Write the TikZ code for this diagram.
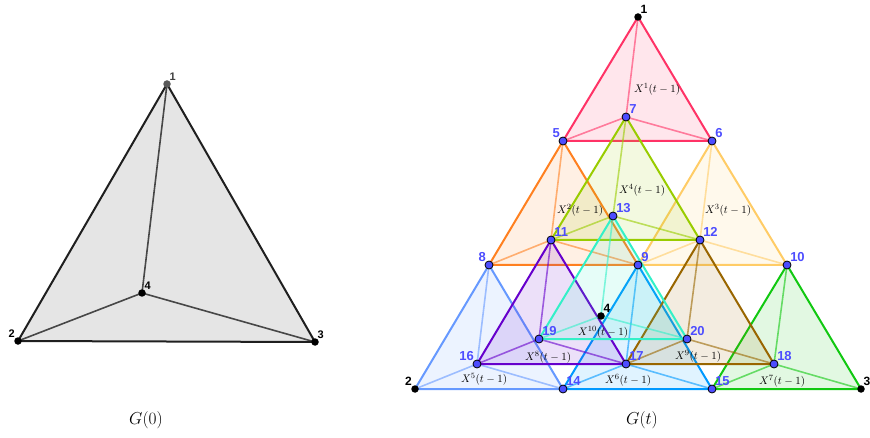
\documentclass[tikz,border=0pt]{standalone}
\usepackage{amsmath}
\usepackage{fontspec}
\usepackage{tikz}
\usetikzlibrary{positioning, calc}
\newfontfamily\lblfont{Liberation Sans}

\definecolor{cPink}{RGB}{255,51,102}
\definecolor{cOrange}{RGB}{255,128,32}
\definecolor{cSand}{RGB}{255,204,102}
\definecolor{cLime}{RGB}{153,204,0}
\definecolor{cSky}{RGB}{102,153,255}
\definecolor{cBlue}{RGB}{0,153,255}
\definecolor{cGreen}{RGB}{17,200,17}
\definecolor{cPurple}{RGB}{102,0,204}
\definecolor{cBrown}{RGB}{153,102,0}
\definecolor{cAqua}{RGB}{51,240,200}
\definecolor{lblblue}{RGB}{77,77,255}

\tikzset{
  tri/.style={draw=#1, fill=#1, fill opacity=0.12, draw opacity=1, line width=2pt, line join=round},
  spk/.style={draw=#1, draw opacity=0.6, line width=1.6pt},
  bluevtx/.style={circle, draw=black, fill=lblblue, line width=0.8pt, inner sep=0pt, minimum size=8pt},
  blackvtx/.style={circle, fill=black, inner sep=0pt, minimum size=7.5pt},
  bluelbl/.style={text=lblblue, font=\fontsize{13}{13}\lblfont\bfseries, inner sep=1pt, label distance=-1.5pt},
  blacklbl/.style={text=black, font=\fontsize{12}{12}\lblfont\bfseries, inner sep=1pt, label distance=-1pt},
  xlbl/.style={font=\fontsize{11}{11}\selectfont, inner sep=0pt},
  caption/.style={font=\fontsize{19}{19}\selectfont, inner sep=0pt}
}

\begin{document}
\begin{tikzpicture}[x=1pt, y=-1pt]
    \useasboundingbox (0,0) rectangle (870,438);

    % --- G(0) ---
    \coordinate (a1) at (167,84);
    \coordinate (a2) at (18,341);
    \coordinate (a3) at (315,342);
    \coordinate (a4) at (142,293);
    \fill[black!10] (a1) -- (a2) -- (a3) -- cycle;
    \draw[black!72, line width=1.6pt] (a4) -- (a1) (a4) -- (a2) (a4) -- (a3);
    \draw[black!88, line width=2pt, line join=round] (a1) -- (a2) -- (a3) -- cycle;
    \node[blackvtx, fill=black!65, label={[blacklbl, font=\fontsize{11}{11}\lblfont\bfseries, text=black!75]60:1}] (na1) at (a1) {};
    \node[blackvtx, label={[blacklbl, font=\fontsize{11}{11}\lblfont\bfseries]135:2}] (na2) at (a2) {};
    \node[blackvtx, label={[blacklbl, font=\fontsize{11}{11}\lblfont\bfseries]60:3}] (na3) at (a3) {};
    \node[blackvtx, label={[blacklbl, font=\fontsize{11}{11}\lblfont\bfseries]60:4}] (na4) at (a4) {};
    \node[caption] (cap0) at (146,420) {$G(0)$};

    % --- G(t): vertices ---
    \coordinate (p1) at (638,17);   \coordinate (p2) at (415,389);
    \coordinate (p3) at (861,389);  \coordinate (p4) at (601,316);
    \coordinate (p5) at (563,141);  \coordinate (p6) at (712,141);
    \coordinate (p7) at (626,117);  \coordinate (p8) at (489,265);
    \coordinate (p9) at (638,265);  \coordinate (p10) at (787,265);
    \coordinate (p11) at (551,240); \coordinate (p12) at (700,240);
    \coordinate (p13) at (613,216); \coordinate (p14) at (563,389);
    \coordinate (p15) at (712,389); \coordinate (p16) at (477,364);
    \coordinate (p17) at (626,364); \coordinate (p18) at (774,364);
    \coordinate (p19) at (539,339); \coordinate (p20) at (687,339);

    % X^1(t-1)
    \draw[spk=cPink] (p7) -- (p1) (p7) -- (p5) (p7) -- (p6);
    \draw[tri=cPink] (p1) -- (p5) -- (p6) -- cycle;
    % X^2(t-1)
    \draw[spk=cOrange] (p11) -- (p5) (p11) -- (p8) (p11) -- (p9);
    \draw[tri=cOrange] (p5) -- (p8) -- (p9) -- cycle;
    % X^3(t-1)
    \draw[spk=cSand] (p12) -- (p6) (p12) -- (p9) (p12) -- (p10);
    \draw[tri=cSand] (p6) -- (p9) -- (p10) -- cycle;
    % X^4(t-1)
    \draw[spk=cLime] (p13) -- (p7) (p13) -- (p11) (p13) -- (p12);
    \draw[tri=cLime] (p7) -- (p11) -- (p12) -- cycle;
    % X^5(t-1)
    \draw[spk=cSky] (p16) -- (p8) (p16) -- (p2) (p16) -- (p14);
    \draw[tri=cSky] (p8) -- (p2) -- (p14) -- cycle;
    % X^6(t-1)
    \draw[spk=cBlue] (p17) -- (p9) (p17) -- (p14) (p17) -- (p15);
    \draw[tri=cBlue] (p9) -- (p14) -- (p15) -- cycle;
    % X^7(t-1)
    \draw[spk=cGreen] (p18) -- (p10) (p18) -- (p15) (p18) -- (p3);
    \draw[tri=cGreen] (p10) -- (p15) -- (p3) -- cycle;
    % X^8(t-1)
    \draw[spk=cPurple] (p19) -- (p11) (p19) -- (p16) (p19) -- (p17);
    \draw[tri=cPurple] (p11) -- (p16) -- (p17) -- cycle;
    % X^9(t-1)
    \draw[spk=cBrown] (p20) -- (p12) (p20) -- (p17) (p20) -- (p18);
    \draw[tri=cBrown] (p12) -- (p17) -- (p18) -- cycle;
    % X^10(t-1)
    \draw[spk=cAqua] (p4) -- (p13) (p4) -- (p19) (p4) -- (p20);
    \draw[tri=cAqua] (p13) -- (p19) -- (p20) -- cycle;

    % Sub-graph labels
    \node[xlbl] (x1) at (657,89) {$X^{1}(t-1)$};
    \node[xlbl] (x2) at (580,210) {$X^{2}(t-1)$};
    \node[xlbl] (x3) at (728,210) {$X^{3}(t-1)$};
    \node[xlbl] (x4) at (642,190) {$X^{4}(t-1)$};
    \node[xlbl] (x5) at (484,379) {$X^{5}(t-1)$};
    \node[xlbl] (x6) at (628,380) {$X^{6}(t-1)$};
    \node[xlbl] (x7) at (782,381) {$X^{7}(t-1)$};
    \node[xlbl] (x8) at (548,357) {$X^{8}(t-1)$};
    \node[xlbl] (x9) at (698,356) {$X^{9}(t-1)$};
    \node[xlbl] (x10) at (603,332) {$X^{10}(t-1)$};

    % Vertices
    \node[blackvtx, label={[blacklbl]60:1}] (n1) at (p1) {};
    \node[blackvtx, label={[blacklbl]135:2}] (n2) at (p2) {};
    \node[blackvtx, label={[blacklbl]60:3}] (n3) at (p3) {};
    \node[blackvtx, label={[blacklbl]60:4}] (n4) at (p4) {};
    \node[bluevtx, label={[bluelbl]135:5}] (n5) at (p5) {};
    \node[bluevtx, label={[bluelbl]45:6}] (n6) at (p6) {};
    \node[bluevtx, label={[bluelbl]45:7}] (n7) at (p7) {};
    \node[bluevtx, label={[bluelbl]135:8}] (n8) at (p8) {};
    \node[bluevtx, label={[bluelbl]45:9}] (n9) at (p9) {};
    \node[bluevtx, label={[bluelbl]45:10}] (n10) at (p10) {};
    \node[bluevtx, label={[bluelbl]45:11}] (n11) at (p11) {};
    \node[bluevtx, label={[bluelbl]45:12}] (n12) at (p12) {};
    \node[bluevtx, label={[bluelbl]45:13}] (n13) at (p13) {};
    \node[bluevtx, label={[bluelbl]45:14}] (n14) at (p14) {};
    \node[bluevtx, label={[bluelbl]45:15}] (n15) at (p15) {};
    \node[bluevtx, label={[bluelbl]135:16}] (n16) at (p16) {};
    \node[bluevtx, label={[bluelbl]45:17}] (n17) at (p17) {};
    \node[bluevtx, label={[bluelbl]45:18}] (n18) at (p18) {};
    \node[bluevtx, label={[bluelbl]45:19}] (n19) at (p19) {};
    \node[bluevtx, label={[bluelbl]45:20}] (n20) at (p20) {};
    \node[caption] (capt) at (642,420) {$G(t)$};
\end{tikzpicture}
\end{document}
